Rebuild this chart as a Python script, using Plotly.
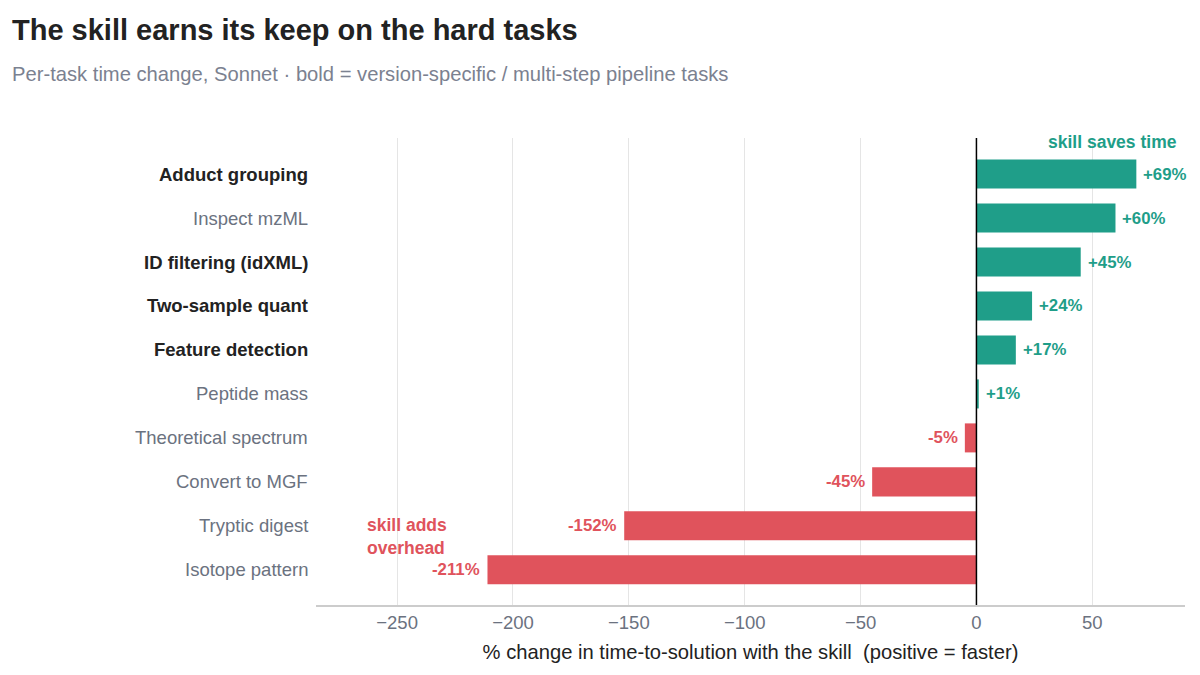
import plotly.graph_objects as go

# tasks listed top to bottom, as in the chart
tasks = ["Adduct grouping", "Inspect mzML", "ID filtering (idXML)", "Two-sample quant",
         "Feature detection", "Peptide mass", "Theoretical spectrum", "Convert to MGF",
         "Tryptic digest", "Isotope pattern"]
change_pct = [69, 60, 45, 24, 17, 1, -5, -45, -152, -211]
is_hard = [True, False, True, True, True, False, False, False, False, False]
x_ticks = [-250, -200, -150, -100, -50, 0, 50]

TEAL = "#1f9e89"
RED = "#e0535c"
DARK = "#222222"
GREY = "#6b7280"
FONT = "Liberation Sans, Arial, sans-serif"

# plot bottom to top
ys = list(range(len(tasks)))[::-1]
colors = [TEAL if v >= 0 else RED for v in change_pct]

fig = go.Figure(go.Bar(
    x=change_pct, y=ys, orientation="h", width=0.66,
    marker=dict(color=colors, line=dict(width=0)),
    hoverinfo="skip",
))

for y, name, hard, v, c in zip(ys, tasks, is_hard, change_pct, colors):
    fig.add_annotation(
        x=0, xref="paper", y=y, yref="y", xanchor="right", xshift=-6,
        text=f"<b>{name}</b>" if hard else name, showarrow=False,
        font=dict(size=18.5, color=DARK if hard else GREY, family=FONT))
    fig.add_annotation(
        x=v, y=y, xanchor="left" if v >= 0 else "right", xshift=5 if v >= 0 else -5,
        text=f"<b>{v:+d}%</b>", showarrow=False,
        font=dict(size=16.8, color=c, family=FONT))

fig.add_annotation(x=1, xref="paper", y=9.73, yref="y", xanchor="right", xshift=-6,
                   text="<b>skill saves time</b>", showarrow=False,
                   font=dict(size=17.5, color=TEAL, family=FONT))
fig.add_annotation(x=-264, y=0.75, xanchor="left", align="left",
                   text="<b>skill adds<br>overhead</b>", showarrow=False,
                   font=dict(size=17.5, color=RED, family=FONT))

# title and subtitle
fig.add_annotation(x=0, xref="paper", xshift=-306, y=1.231, yref="paper",
                   xanchor="left", yanchor="middle", showarrow=False,
                   text="<b>The skill earns its keep on the hard tasks</b>",
                   font=dict(size=29, color=DARK, family=FONT))
fig.add_annotation(x=0, xref="paper", xshift=-306, y=1.137, yref="paper",
                   xanchor="left", yanchor="middle", showarrow=False,
                   text="Per-task time change, Sonnet · bold = version-specific / multi-step pipeline tasks",
                   font=dict(size=20.2, color="#7b8190", family=FONT))

fig.add_vline(x=0, line=dict(color="black", width=1.5))

fig.update_layout(
    width=1200, height=675,
    margin=dict(l=308, r=23, t=130, b=78, autoexpand=False),
    paper_bgcolor="white", plot_bgcolor="white",
    showlegend=False,
    font=dict(family=FONT, color=DARK),
    xaxis=dict(
        range=[-285, 90], tickvals=x_ticks, ticktext=[f"{t}".replace("-", "−") for t in x_ticks],
        showgrid=True, gridcolor="#e5e5e5", gridwidth=1, zeroline=False,
        showline=True, linecolor="#cccccc", linewidth=1.5, ticks="",
        tickfont=dict(size=18.5, color=GREY),
        title=dict(text="% change in time-to-solution with the skill  (positive = faster)",
                   font=dict(size=20.2, color=DARK), standoff=13)),
    yaxis=dict(range=[-0.8, 9.82], showticklabels=False, showgrid=False,
               zeroline=False, showline=False),
)

fig.write_html("out.html")
